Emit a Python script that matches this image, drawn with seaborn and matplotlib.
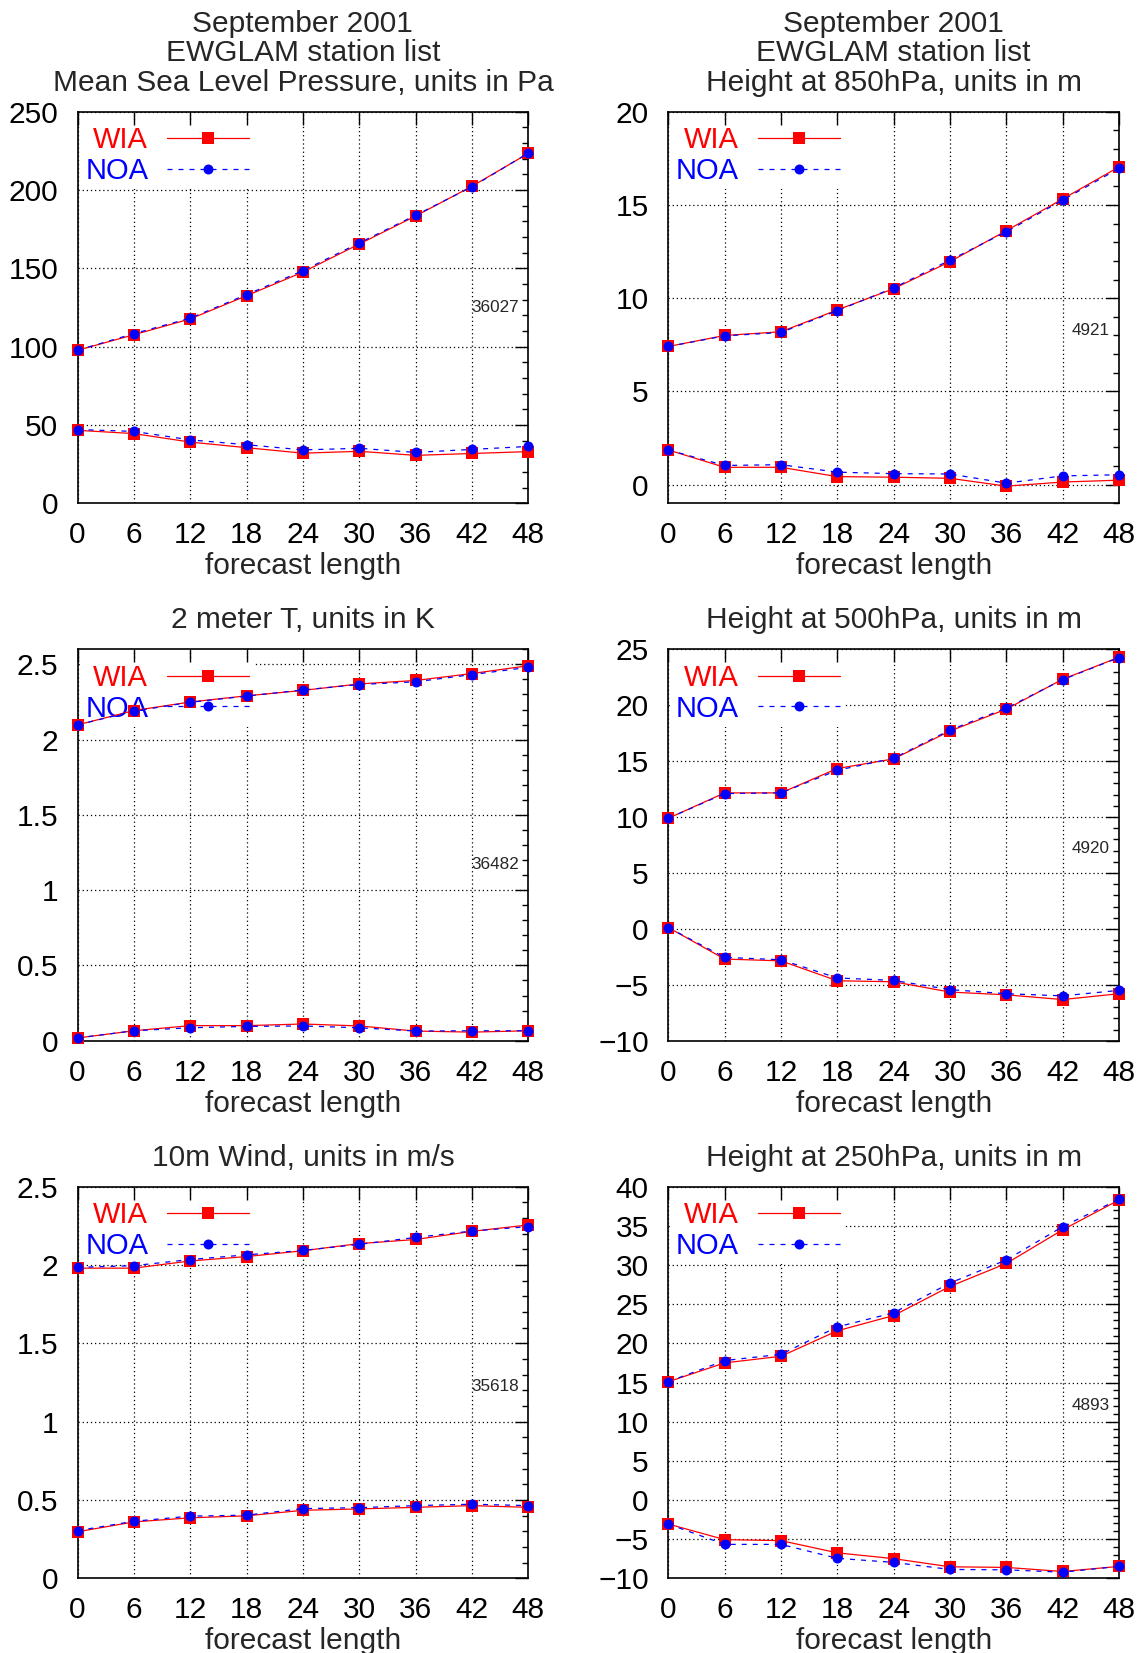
import matplotlib
matplotlib.use('Agg')
import matplotlib.pyplot as plt
import seaborn as sns
import pandas as pd
from matplotlib.ticker import MultipleLocator, FixedLocator, FuncFormatter

### DATA

lead = [0, 6, 12, 18, 24, 30, 36, 42, 48]

# Mean sea level pressure, Pa
mslp_wia_rms = [97.7, 107.6, 117.7, 132.5, 147.6, 165.5, 183.4, 202.4, 223.4]
mslp_noa_rms = [97.7, 108.3, 118.2, 133.2, 148.5, 166.2, 183.9, 202.0, 223.6]
mslp_wia_bias = [46.6, 44.5, 39.1, 35.5, 32.0, 33.2, 30.6, 31.8, 33.0]
mslp_noa_bias = [47.1, 45.9, 40.5, 37.4, 34.1, 35.1, 32.5, 34.4, 36.3]

# Height at 850hPa, m
z850_wia_rms = [7.41, 8.00, 8.20, 9.37, 10.51, 11.96, 13.62, 15.32, 17.04]
z850_noa_rms = [7.41, 7.98, 8.16, 9.33, 10.55, 12.04, 13.56, 15.26, 16.96]
z850_wia_bias = [1.86, 0.93, 0.93, 0.43, 0.40, 0.34, -0.08, 0.14, 0.24]
z850_noa_bias = [1.86, 1.03, 1.07, 0.67, 0.59, 0.57, 0.08, 0.47, 0.53]

# 2 meter temperature, K
t2m_wia_rms = [2.098, 2.193, 2.250, 2.291, 2.327, 2.370, 2.393, 2.439, 2.491]
t2m_noa_rms = [2.098, 2.189, 2.248, 2.289, 2.330, 2.366, 2.384, 2.432, 2.480]
t2m_wia_bias = [0.018, 0.066, 0.100, 0.100, 0.111, 0.098, 0.064, 0.057, 0.066]
t2m_noa_bias = [0.018, 0.066, 0.086, 0.095, 0.098, 0.086, 0.064, 0.066, 0.066]

# Height at 500hPa, m
z500_wia_rms = [9.89, 12.16, 12.16, 14.34, 15.20, 17.69, 19.65, 22.32, 24.29]
z500_noa_rms = [9.89, 12.10, 12.16, 14.18, 15.26, 17.78, 19.74, 22.29, 24.26]
z500_wia_bias = [0.12, -2.70, -2.86, -4.64, -4.73, -5.65, -5.90, -6.32, -5.80]
z500_noa_bias = [0.12, -2.55, -2.76, -4.39, -4.61, -5.43, -5.80, -5.99, -5.50]

# 10m wind, m/s
w10_wia_rms = [1.980, 1.980, 2.026, 2.054, 2.091, 2.137, 2.163, 2.215, 2.256]
w10_noa_rms = [1.985, 1.996, 2.035, 2.065, 2.093, 2.132, 2.176, 2.217, 2.245]
w10_wia_bias = [0.297, 0.360, 0.386, 0.399, 0.434, 0.443, 0.453, 0.464, 0.453]
w10_noa_bias = [0.304, 0.364, 0.397, 0.403, 0.445, 0.451, 0.464, 0.473, 0.464]

# Height at 250hPa, m
z250_wia_rms = [15.1, 17.5, 18.35, 21.6, 23.55, 27.27, 30.2, 34.5, 38.3]
z250_noa_rms = [15.1, 17.8, 18.6, 22.1, 23.9, 27.7, 30.65, 34.9, 38.4]
z250_wia_bias = [-3.07, -5.06, -5.19, -6.75, -7.49, -8.53, -8.61, -9.13, -8.48]
z250_noa_bias = [-3.07, -5.67, -5.67, -7.45, -7.97, -8.87, -8.92, -9.22, -8.48]

header = 'September 2001\nEWGLAM station list\n'
titles = [header + 'Mean Sea Level Pressure, units in Pa',
          header + 'Height at 850hPa, units in m',
          '2 meter T, units in K',
          'Height at 500hPa, units in m',
          '10m Wind, units in m/s',
          'Height at 250hPa, units in m']
stations = ['36027', '4921', '36482', '4920', '35618', '4893']

### LAYOUT (pixel edges of the plot frames)

W, H = 1143, 1653
cols = [(77.5, 528.3), (668.3, 1119.0)]
rows = [(111.7, 503.3), (649.3, 1040.7), (1186.7, 1578.3)]


def rect(r, c):
    l, rr = cols[c]
    t, b = rows[r]
    return [l / W, 1 - b / H, (rr - l) / W, (b - t) / H]


panels = [
    dict(pos=(0, 0), wia=(mslp_wia_rms, mslp_wia_bias), noa=(mslp_noa_rms, mslp_noa_bias),
         ylim=(0, 250), major=50, minor=10, sty=0.50),
    dict(pos=(0, 1), wia=(z850_wia_rms, z850_wia_bias), noa=(z850_noa_rms, z850_noa_bias),
         ylim=(-1, 20), major=5, minor=1, sty=0.44),
    dict(pos=(1, 0), wia=(t2m_wia_rms, t2m_wia_bias), noa=(t2m_noa_rms, t2m_noa_bias),
         ylim=(0, 2.6), major=0.5, minor=0.1, sty=0.45),
    dict(pos=(1, 1), wia=(z500_wia_rms, z500_wia_bias), noa=(z500_noa_rms, z500_noa_bias),
         ylim=(-10, 25), major=5, minor=1, sty=0.49),
    dict(pos=(2, 0), wia=(w10_wia_rms, w10_wia_bias), noa=(w10_noa_rms, w10_noa_bias),
         ylim=(0, 2.5), major=0.5, minor=0.1, sty=0.49),
    dict(pos=(2, 1), wia=(z250_wia_rms, z250_wia_bias), noa=(z250_noa_rms, z250_noa_bias),
         ylim=(-10, 40), major=5, minor=1, sty=0.44),
]

styles = {'WIA': dict(color='red', marker='s', markersize=8, linestyle='-'),
          'NOA': dict(color='blue', marker='o', markersize=7.2, linestyle=(0, (4, 4.8)))}

FS = 21.5

sns.set_theme(style='white')
plt.rcParams['font.family'] = ['Liberation Sans', 'DejaVu Sans']
plt.rcParams['axes.unicode_minus'] = True


def gfmt(v, pos):
    return ('%g' % round(v, 6)).replace('-', '\u2212')


fig = plt.figure(figsize=(W / 100, H / 100), dpi=100)

for i, p in enumerate(panels):
    ax = fig.add_axes(rect(*p['pos']))
    recs = []
    for model in ['WIA', 'NOA']:
        rms, bias = p[model.lower()]
        for x, v in zip(lead, rms):
            recs.append((x, v, model, 'rms'))
        for x, v in zip(lead, bias):
            recs.append((x, v, model, 'bias'))
    df = pd.DataFrame(recs, columns=['lead', 'value', 'model', 'stat'])

    for k, model in enumerate(['WIA', 'NOA']):
        sub = df[df['model'] == model]
        sns.lineplot(data=sub, x='lead', y='value', units='stat', estimator=None,
                     sort=False, linewidth=0.9, markeredgewidth=0, label=model,
                     legend=False, ax=ax, zorder=3 + k * 0.1, clip_on=False,
                     **styles[model])

    lo, hi = p['ylim']
    ax.set_xlim(0, 48)
    ax.set_ylim(lo, hi)
    ax.xaxis.set_major_locator(FixedLocator(lead))
    ax.yaxis.set_major_locator(MultipleLocator(p['major']))
    ax.yaxis.set_minor_locator(MultipleLocator(p['minor']))
    ax.yaxis.set_major_formatter(FuncFormatter(gfmt))
    ax.xaxis.set_major_formatter(FuncFormatter(gfmt))

    # dotted grid drawn by hand so the key box can hide it but not the ticks
    for x in lead:
        ax.axvline(x, color='black', lw=0.9, ls=(0, (1, 2.3)), zorder=0.5)
    for y in ax.get_yticks():
        if lo <= y <= hi:
            ax.axhline(y, color='black', lw=0.9, ls=(0, (1, 2.3)), zorder=0.5)

    ax.set_axisbelow(False)
    ax.tick_params(which='both', direction='in', top=True, right=True,
                   colors='black', width=1.0, labelsize=FS)
    ax.tick_params(axis='x', pad=13)
    ax.tick_params(axis='y', pad=14)
    ax.tick_params(which='major', length=9.6)
    ax.tick_params(which='minor', length=4.5)
    for s in ax.spines.values():
        s.set_color('black')
        s.set_linewidth(1.2)

    ax.set_title(titles[i], fontsize=FS, pad=15, linespacing=1.07)
    ax.set_xlabel('forecast length', fontsize=FS, labelpad=2)
    ax.set_ylabel('')

    ax.text(0.98, p['sty'], stations[i], transform=ax.transAxes,
            ha='right', va='center', fontsize=12.3, zorder=2)

    handles, labels = ax.get_legend_handles_labels()
    uniq = dict(zip(labels, handles))
    leg = ax.legend([uniq['WIA'], uniq['NOA']], ['WIA', 'NOA'], loc='upper left',
                    bbox_to_anchor=(0.008, 0.973), borderaxespad=0, borderpad=0.14,
                    markerfirst=False, handlelength=2.8, handletextpad=0.65,
                    labelspacing=0.09, fontsize=21, frameon=True, fancybox=False,
                    framealpha=1, facecolor='white', edgecolor='none',
                    labelcolor='linecolor', numpoints=1)
    leg.get_frame().set_linewidth(0)
    leg.set_zorder(1)

fig.savefig('out.png', dpi=100)
